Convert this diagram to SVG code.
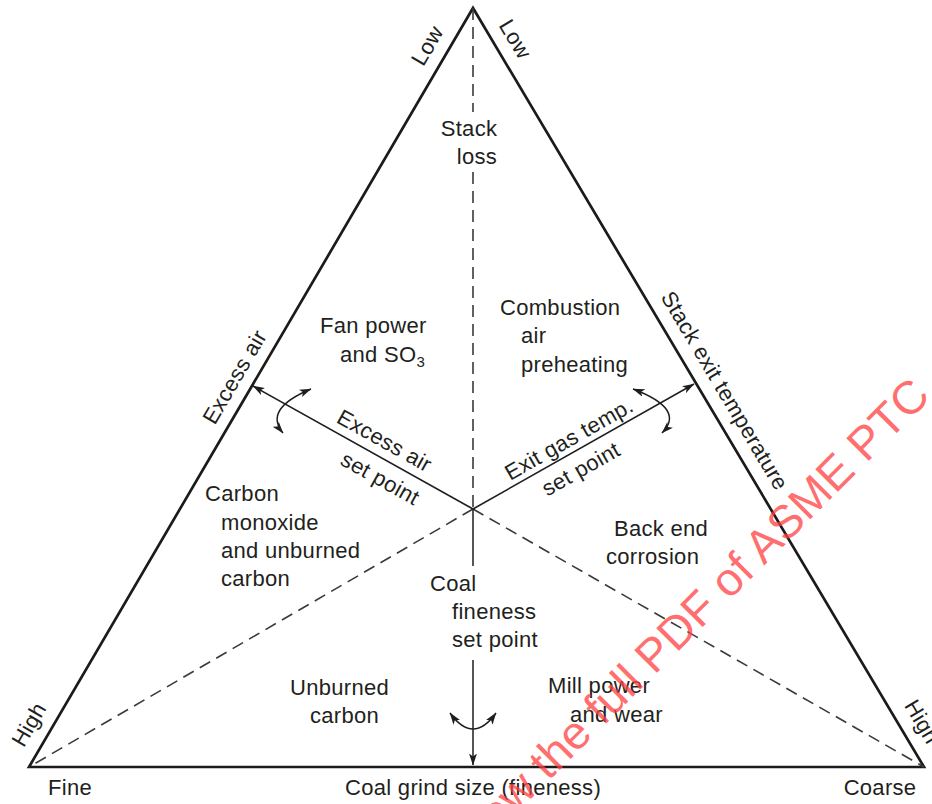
<svg xmlns="http://www.w3.org/2000/svg" width="932" height="804" viewBox="0 0 932 804">
<style>
.edge{stroke:#1b1b1b;stroke-width:2.7;fill:none}
.dash{stroke:#3a3a3a;stroke-width:1.6;stroke-dasharray:12 7;fill:none}
.arr{stroke:#1e1e1e;stroke-width:1.5;fill:none}
text{font-family:"Liberation Sans",Arial,sans-serif;font-size:22px;fill:#221f20;letter-spacing:0.3px}
.m{text-anchor:middle}
.wm{font-size:46.5px;fill:#ff4040;fill-opacity:0.75;letter-spacing:0}
</style>
<defs>
<marker id="ah" viewBox="0 0 12 8" refX="11.5" refY="4" markerWidth="12" markerHeight="8" markerUnits="userSpaceOnUse" orient="auto-start-reverse"><path d="M0,0 L12,4 L0,8 L3,4 z" fill="#1e1e1e"/></marker>
</defs>
<rect width="932" height="804" fill="#ffffff"/>
<g id="triangle">
<polygon class="edge" points="29,767 473,8 924,767"/>
</g>
<g id="connectors">
<path class="dash" d="M473,8 V112 M473,172 V509 M473,509 L29,767 M473,509 L924,767"/>
<path class="arr" d="M473,509 V566"/>
<path class="arr" d="M473,660 V765" marker-end="url(#ah)"/>
<path class="arr" d="M473,509 L253,386" marker-end="url(#ah)"/>
<path class="arr" d="M473,509 L694,384" marker-end="url(#ah)"/>
<path class="arr" d="M311,389 Q263,409 283,433" marker-start="url(#ah)" marker-end="url(#ah)"/>
<path class="arr" d="M633,389 Q686,409 662,433" marker-start="url(#ah)" marker-end="url(#ah)"/>
<path class="arr" d="M450,713 Q473,745 496,713" marker-start="url(#ah)" marker-end="url(#ah)"/>
</g>
<g id="axis-left">
<text class="m" transform="translate(445,56) rotate(-59.67)" y="-13">Low</text>
<text class="m" transform="translate(251.5,386.8) rotate(-59.67)" y="-12">Excess air</text>
<text class="m" transform="translate(47.5,735.4) rotate(-59.67)" y="-14">High</text>
</g>
<g id="axis-right">
<text class="m" transform="translate(497.7,49.5) rotate(59.28)" y="-13">Low</text>
<text class="m" transform="translate(707,401) rotate(59.28)" y="-13">Stack exit temperature</text>
<text class="m" transform="translate(903.6,732.7) rotate(59.28)" y="-14">High</text>
</g>
<g id="axis-bottom">
<text class="m" x="70" y="795">Fine</text>
<text class="m" x="473" y="795">Coal grind size (fineness)</text>
<text class="m" x="880" y="795">Coarse</text>
</g>
<g id="stack-loss">
<text class="m" x="469" y="136">Stack</text>
<text class="m" x="477" y="164">loss</text>
</g>
<g id="fan-power">
<text x="320" y="333">Fan power</text>
<text x="340" y="362">and SO<tspan font-size="15" dy="5">3</tspan></text>
</g>
<g id="combustion-air">
<text x="500" y="315">Combustion</text>
<text x="521" y="343">air</text>
<text x="521" y="372">preheating</text>
</g>
<g id="excess-air-setpoint">
<g transform="translate(473,509) rotate(29.2)">
<text class="m" x="-110.5" y="-9">Excess air</text>
<text class="m" x="-96" y="26">set point</text>
</g>
</g>
<g id="exit-gas-setpoint">
<g transform="translate(473,509) rotate(-29.6)">
<text class="m" x="118" y="-6">Exit gas temp.</text>
<text class="m" x="113.6" y="26">set point</text>
</g>
</g>
<g id="carbon-monoxide">
<text x="205" y="501">Carbon</text>
<text x="221" y="530">monoxide</text>
<text x="221" y="558">and unburned</text>
<text x="221" y="586">carbon</text>
</g>
<g id="back-end">
<text x="614" y="536">Back end</text>
<text x="606" y="564">corrosion</text>
</g>
<g id="coal-fineness">
<text x="430" y="591">Coal</text>
<text x="452" y="619">fineness</text>
<text x="452" y="647">set point</text>
</g>
<g id="unburned-carbon">
<text x="290" y="695">Unburned</text>
<text x="310" y="723">carbon</text>
</g>
<g id="mill-power">
<text x="548" y="693">Mill power</text>
<text x="570" y="722">and wear</text>
</g>
<g id="watermark">
<text class="wm" transform="translate(473.4,856.3) rotate(-45)">view the full PDF of ASME PTC</text>
</g>
</svg>
